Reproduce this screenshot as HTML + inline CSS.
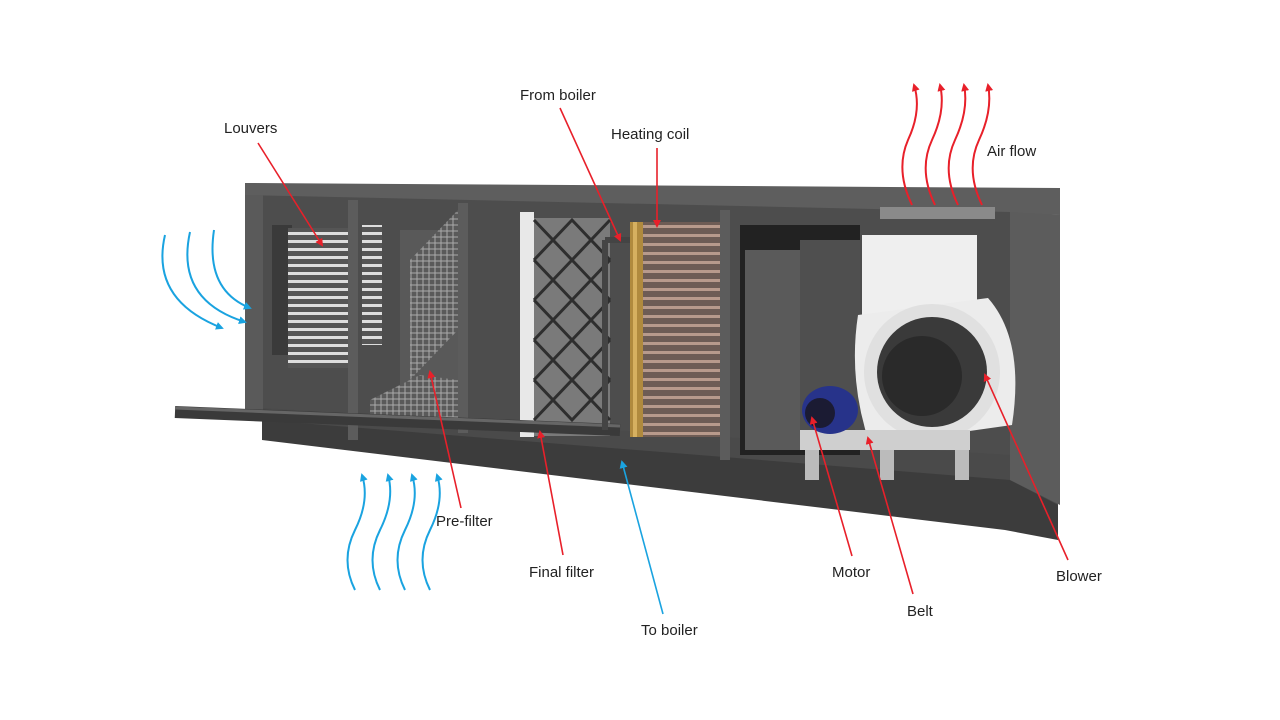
<!DOCTYPE html>
<html><head><meta charset="utf-8"><style>
html,body{margin:0;padding:0;background:#fff;width:1280px;height:720px;overflow:hidden}
text{font-family:"Liberation Sans",sans-serif;font-size:15px;fill:#222}
</style></head><body>
<svg width="1280" height="720" viewBox="0 0 1280 720" xmlns="http://www.w3.org/2000/svg">
<defs>
<marker id="r" markerWidth="8" markerHeight="8" refX="6" refY="4" orient="auto" markerUnits="userSpaceOnUse"><path d="M0,0 L8,4 L0,8 z" fill="#e8202a"/></marker>
<marker id="b" markerWidth="8" markerHeight="8" refX="6" refY="4" orient="auto" markerUnits="userSpaceOnUse"><path d="M0,0 L8,4 L0,8 z" fill="#1aa3e0"/></marker>
<pattern id="lv" width="10" height="8" patternUnits="userSpaceOnUse"><rect width="10" height="8" fill="#555"/><rect y="0" width="10" height="3" fill="#ddd"/></pattern>
<pattern id="cu" width="10" height="9" patternUnits="userSpaceOnUse"><rect width="10" height="9" fill="#6e5c55"/><rect width="10" height="3" fill="#b89a8c"/></pattern>
<pattern id="gr" width="6" height="6" patternUnits="userSpaceOnUse"><rect width="6" height="6" fill="#5a5a5a"/><path d="M0,3H6M3,0V6" stroke="#aaa" stroke-width="1"/></pattern>
</defs>
<!-- base -->
<polygon points="262,395 1010,440 1058,455 1058,540 1010,510 262,425" fill="#4a4a4a"/>
<polygon points="262,420 1010,480 1058,505 1058,540 1005,530 262,440" fill="#3c3c3c"/>
<!-- main body -->
<polygon points="245,183 1060,188 1060,215 245,198" fill="#5e5e5e"/>
<polygon points="245,195 1010,212 1010,455 262,408" fill="#4d4d4d"/>
<rect x="245" y="195" width="18" height="220" fill="#5a5a5a"/>
<polygon points="1010,212 1060,215 1060,505 1010,480" fill="#5c5c5c"/>
<rect x="880" y="207" width="115" height="12" fill="#8a8a8a"/>
<!-- dividers -->
<rect x="348" y="200" width="10" height="240" fill="#5c5c5c"/>
<rect x="458" y="203" width="10" height="230" fill="#5c5c5c"/>
<rect x="720" y="210" width="10" height="250" fill="#5c5c5c"/>
<!-- louvers -->
<rect x="272" y="225" width="20" height="130" fill="#3a3a3a"/>
<rect x="288" y="228" width="60" height="140" fill="url(#lv)"/>
<rect x="362" y="225" width="20" height="120" fill="url(#lv)"/>
<!-- prefilter -->
<rect x="400" y="230" width="58" height="170" fill="#595959"/>
<polygon points="410,260 458,210 458,330 410,380" fill="url(#gr)"/>
<polygon points="370,400 420,375 458,380 458,420 370,415" fill="url(#gr)"/>
<!-- final filter -->
<rect x="520" y="212" width="14" height="225" fill="#e8e8e8"/>
<rect x="534" y="218" width="76" height="218" fill="#7a7a7a"/>
<path d="M534,220 L572,260 L610,220 M534,260 L572,300 L610,260 M534,300 L572,340 L610,300 M534,340 L572,380 L610,340 M534,380 L572,420 L610,380 M534,260 L572,220 L610,260 M534,300 L572,260 L610,300 M534,340 L572,300 L610,340 M534,380 L572,340 L610,380 M534,420 L572,380 L610,420" stroke="#2e2e2e" stroke-width="3" fill="none"/>
<!-- pipe -->
<path d="M175,412 L620,430" stroke="#3a3a3a" stroke-width="12"/>
<path d="M175,408 L620,426" stroke="#666" stroke-width="3"/>
<path d="M605,240 L605,430" stroke="#444" stroke-width="6"/>
<path d="M605,240 L630,240" stroke="#444" stroke-width="6"/>
<!-- coil -->
<rect x="640" y="222" width="80" height="215" fill="url(#cu)"/>
<rect x="630" y="222" width="13" height="215" fill="#b08a3e"/>
<rect x="633" y="222" width="4" height="215" fill="#d6b060"/>
<!-- fan section -->
<rect x="740" y="225" width="120" height="230" fill="#222"/>
<rect x="745" y="250" width="55" height="200" fill="#5a5a5a"/>
<rect x="800" y="240" width="60" height="210" fill="#4f4f4f"/>
<rect x="862" y="235" width="115" height="80" fill="#efefef"/>
<path d="M858,315 L988,298 Q1025,340 1012,425 L870,445 Q848,380 858,315z" fill="#ececec"/>
<circle cx="932" cy="372" r="68" fill="#e0e0e0"/>
<circle cx="932" cy="372" r="55" fill="#3a3a3a"/>
<circle cx="922" cy="376" r="40" fill="#2a2a2a"/>
<rect x="800" y="430" width="170" height="20" fill="#cfcfcf"/>
<rect x="805" y="450" width="14" height="30" fill="#bbb"/><rect x="880" y="450" width="14" height="30" fill="#bbb"/><rect x="955" y="450" width="14" height="30" fill="#bbb"/>
<ellipse cx="830" cy="410" rx="28" ry="24" fill="#27338a"/>
<circle cx="820" cy="413" r="15" fill="#1b1b33"/>
<!-- labels -->
<text x="224" y="133">Louvers</text>
<text x="520" y="100">From boiler</text>
<text x="611" y="139">Heating coil</text>
<text x="987" y="156">Air flow</text>
<text x="436" y="526">Pre-filter</text>
<text x="529" y="577">Final filter</text>
<text x="641" y="635">To boiler</text>
<text x="832" y="577">Motor</text>
<text x="907" y="616">Belt</text>
<text x="1056" y="581">Blower</text>
<!-- pointer lines -->
<g stroke="#e8202a" stroke-width="1.6" fill="none" marker-end="url(#r)">
<line x1="258" y1="143" x2="322" y2="245"/>
<line x1="560" y1="108" x2="620" y2="240"/>
<line x1="657" y1="148" x2="657" y2="226"/>
<line x1="461" y1="508" x2="430" y2="372"/>
<line x1="563" y1="555" x2="540" y2="432"/>
<line x1="852" y1="556" x2="812" y2="418"/>
<line x1="913" y1="594" x2="868" y2="438"/>
<line x1="1068" y1="560" x2="985" y2="375"/>
</g>
<line x1="663" y1="614" x2="622" y2="462" stroke="#1aa3e0" stroke-width="1.6" marker-end="url(#b)"/>
<!-- wavy air arrows -->
<g stroke="#1aa3e0" stroke-width="2" fill="none" marker-end="url(#b)">
<path d="M165,235 Q150,300 222,328"/>
<path d="M190,232 Q175,300 245,322"/>
<path d="M214,230 Q205,290 250,308"/>
<path d="M355,590 Q340,560 355,530 Q370,500 362,475"/>
<path d="M380,590 Q365,560 380,530 Q395,500 388,475"/>
<path d="M405,590 Q390,560 405,530 Q420,500 412,475"/>
<path d="M430,590 Q415,560 430,530 Q445,500 437,475"/>
</g>
<g stroke="#e8202a" stroke-width="2" fill="none" marker-end="url(#r)">
<path d="M912,205 Q895,170 908,140 Q922,110 914,85"/>
<path d="M935,205 Q918,170 932,140 Q946,110 940,85"/>
<path d="M958,205 Q941,170 955,140 Q969,110 964,85"/>
<path d="M982,205 Q965,170 979,140 Q993,110 988,85"/>
</g>
</svg>
</body></html>
